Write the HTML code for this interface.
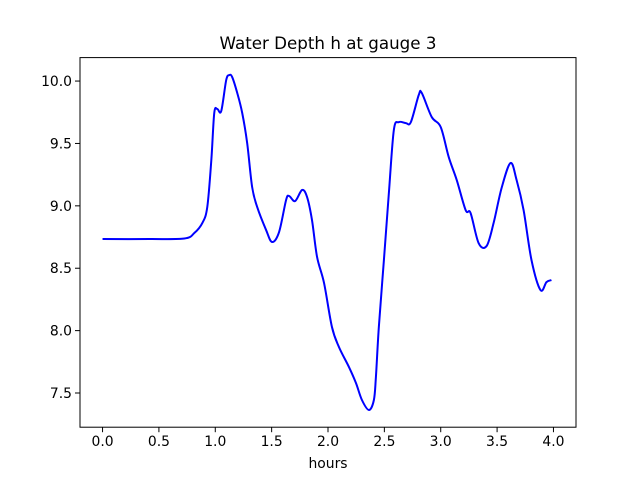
<!DOCTYPE html>
<html><head><meta charset="utf-8"><style>
body{margin:0;background:#fff}
svg{display:block;font-family:"DejaVu Sans","Liberation Sans",sans-serif}
</style></head><body>
<svg id="chart" width="640" height="480" viewBox="0 0 640 480">
<rect x="0" y="0" width="640" height="480" fill="#fff"/>
<text x="328" y="49" font-size="16.7" text-anchor="middle">Water Depth h at gauge 3</text>
<g id="ticks"></g>
<path id="line" fill="none" stroke="#0000ff" stroke-width="2" stroke-linejoin="round"/>
<rect x="80" y="57.6" width="496" height="369.6" fill="none" stroke="#000" stroke-width="1"/>
<text x="328" y="468" font-size="13.9" text-anchor="middle">hours</text>
</svg>
<script>
const hours = [0,0.416,0.726,0.814,0.885,0.929,0.965,0.991,1.018,1.053,1.097,1.124,1.150,1.195,1.239,1.283,1.327,1.372,1.451,1.504,1.566,1.628,1.655,1.708,1.770,1.814,1.858,1.903,1.965,2.035,2.097,2.186,2.248,2.301,2.363,2.407,2.425,2.451,2.496,2.540,2.584,2.628,2.690,2.735,2.805,2.832,2.920,3.000,3.071,3.142,3.221,3.265,3.336,3.407,3.469,3.540,3.619,3.673,3.735,3.805,3.885,3.938,3.982];
const depth = [8.734,8.734,8.738,8.782,8.862,8.990,9.367,9.744,9.776,9.760,10.008,10.048,10.032,9.904,9.744,9.503,9.151,8.990,8.806,8.710,8.790,9.046,9.079,9.038,9.127,9.071,8.886,8.590,8.381,8.029,7.869,7.708,7.580,7.444,7.364,7.444,7.628,8.029,8.566,9.103,9.607,9.671,9.663,9.671,9.888,9.904,9.712,9.631,9.391,9.207,8.966,8.942,8.702,8.678,8.862,9.143,9.343,9.207,8.966,8.566,8.325,8.389,8.405];
const xTicks = ["0.0","0.5","1.0","1.5","2.0","2.5","3.0","3.5","4.0"];
const yTicks = ["7.5","8.0","8.5","9.0","9.5","10.0"];
const xMin=-0.2,xMax=4.2,yMin=7.226,yMax=10.188;
const L=80,R=576,T=57.6,B=427.2;
const sx=v=>L+(v-xMin)/(xMax-xMin)*(R-L);
const sy=v=>B-(v-yMin)/(yMax-yMin)*(B-T);
const NS="http://www.w3.org/2000/svg";
const g=document.getElementById('ticks');
xTicks.forEach(t=>{
  const x=sx(parseFloat(t));
  const l=document.createElementNS(NS,'line');
  
  
  l.setAttribute('x1',x);l.setAttribute('x2',x);l.setAttribute('y1',B);l.setAttribute('y2',B+5);l.setAttribute('stroke','#000');
  g.appendChild(l);
  const tx=document.createElementNS(NS,'text');
  
  
  tx.setAttribute('x',x);tx.setAttribute('y',B+19);tx.setAttribute('font-size','13.9');tx.setAttribute('text-anchor','middle');
  tx.textContent=t;g.appendChild(tx);
});
yTicks.forEach(t=>{
  const y=sy(parseFloat(t));
  const l=document.createElementNS(NS,'line');
  
  
  l.setAttribute('x1',L-5);l.setAttribute('x2',L);l.setAttribute('y1',y);l.setAttribute('y2',y);l.setAttribute('stroke','#000');
  g.appendChild(l);
  const tx=document.createElementNS(NS,'text');
  
  
  tx.setAttribute('x',L-8);tx.setAttribute('y',y+5);tx.setAttribute('font-size','13.9');tx.setAttribute('text-anchor','end');
  tx.textContent=t;g.appendChild(tx);
});
const pts=hours.map((h,i)=>[sx(h),sy(depth[i])]);
let d='M'+pts[0][0]+','+pts[0][1];
for(let i=0;i<pts.length-1;i++){
  const p0=pts[Math.max(0,i-1)],p1=pts[i],p2=pts[i+1],p3=pts[Math.min(pts.length-1,i+2)];
  const c1x=p1[0]+(p2[0]-p0[0])/6,c1y=p1[1]+(p2[1]-p0[1])/6;
  const c2x=p2[0]-(p3[0]-p1[0])/6,c2y=p2[1]-(p3[1]-p1[1])/6;
  d+=` C${c1x},${c1y} ${c2x},${c2y} ${p2[0]},${p2[1]}`;
}
document.getElementById('line').setAttribute('d',d);
</script>
</body></html>
